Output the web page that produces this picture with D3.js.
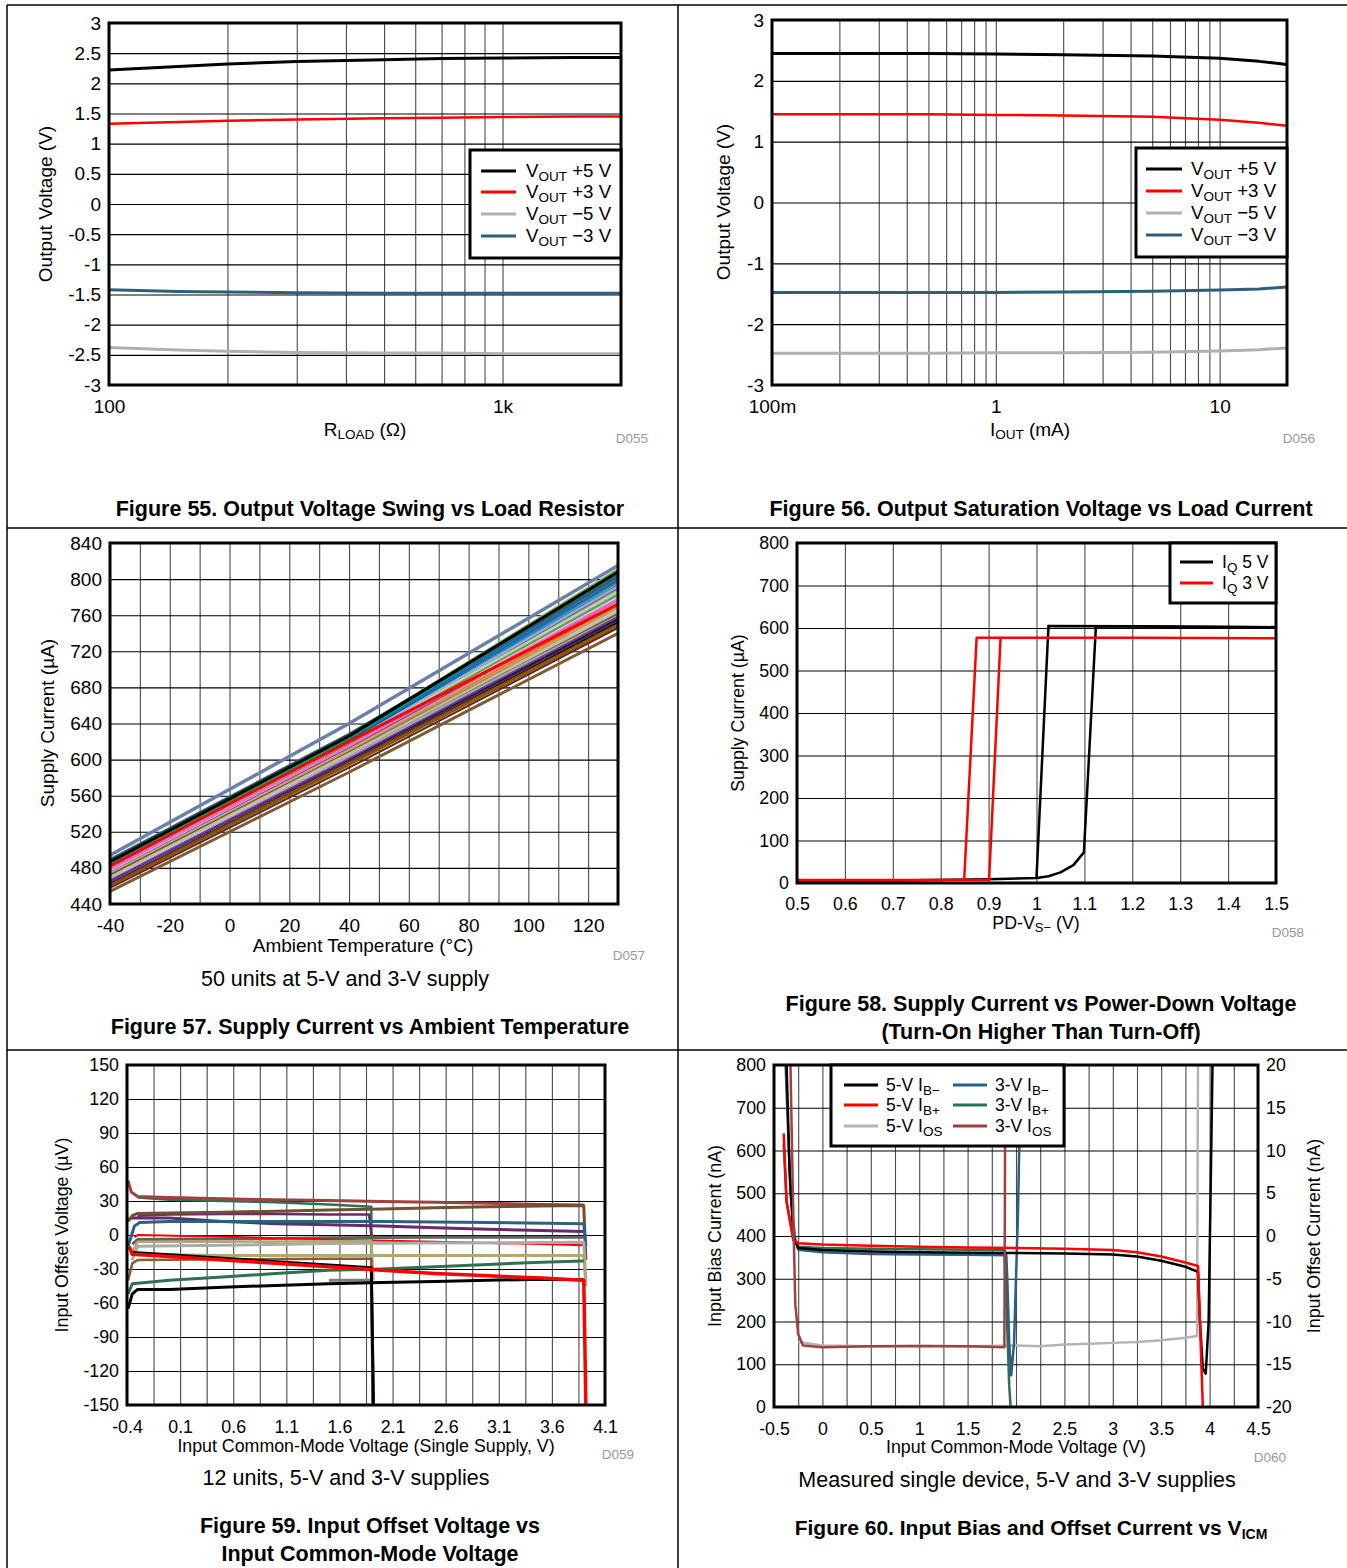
<!DOCTYPE html>
<html><head><meta charset="utf-8">
<script src="https://cdn.jsdelivr.net/npm/d3@7"></script>
<style>body{margin:0;background:#fff}</style>
</head><body><svg id="c" width="1347" height="1568"></svg>
<script>
// ---------------- DATA ----------------
// Figure 55
const f55_rload = [100, 150, 200, 300, 500, 700, 1000, 1500, 2000];
const f55_vout_p5 = [2.22, 2.28, 2.32, 2.36, 2.39, 2.41, 2.42, 2.43, 2.43];
const f55_vout_p3 = [1.33, 1.36, 1.38, 1.40, 1.42, 1.43, 1.44, 1.45, 1.45];
const f55_vout_m5 = [-2.38, -2.42, -2.44, -2.46, -2.47, -2.47, -2.48, -2.48, -2.48];
const f55_vout_m3 = [-1.42, -1.45, -1.46, -1.47, -1.48, -1.48, -1.48, -1.48, -1.48];
// Figure 56
const f56_iout = [0.1, 0.2, 0.5, 1, 2, 5, 10, 15, 20];
const f56_vout_p5 = [2.45, 2.45, 2.45, 2.44, 2.43, 2.41, 2.37, 2.32, 2.27];
const f56_vout_p3 = [1.45, 1.45, 1.45, 1.44, 1.43, 1.41, 1.36, 1.31, 1.26];
const f56_vout_m5 = [-2.48, -2.48, -2.48, -2.47, -2.47, -2.46, -2.44, -2.42, -2.39];
const f56_vout_m3 = [-1.48, -1.48, -1.48, -1.48, -1.47, -1.46, -1.44, -1.42, -1.39];
// Figure 57 (50 units)
const f57_temps = [-40, 40, 130];
const f57_at_m40 = [494,489,488,485,482,475,471,468,465,454,487,486,484,483,486,480,478,477,481,476,479,480,478,474,482,462,466,470,467,472,460,458,483,479,476,473,477,474,481,469,480,485,472,463,461,484,483,478,466,470];
const f57_at_40  = [640,628,627,622,620,612,608,605,603,586,626,627,624,622,628,618,614,614,620,612,617,618,616,610,621,596,600,606,604,609,594,591,623,617,613,611,615,611,619,606,619,624,608,598,596,623,624,615,601,607];
const f57_at_130 = [815,803,800,790,772,768,752,760,762,740,808,811,800,796,792,786,776,774,794,770,788,790,784,770,798,752,756,764,760,766,748,746,797,782,778,772,780,774,786,766,792,804,762,754,750,799,806,778,758,764];
const f57_colors = ['#6b80a8','#2f5f6f','#3d6b7a','#cc33ee','#ff0000','#b0a868','#7a2d6e','#888888','#bbbbbb','#7b5c33','#000000','#7ab648','#6a6ab0','#a8c830','#40c8c8','#9ccfc0','#e070b0','#d9534f','#4f81bd','#c0504d','#9bbb59','#8064a2','#4bacc6','#f79646','#1f497d','#000000','#000000','#595959','#a6a6a6','#948a54','#7f6000','#632523','#31859c','#76923c','#5f497a','#e36c09','#b7dde8','#d99694','#c3d69b','#ccc1da','#8db3e2','#366092','#4f6228','#403151','#984807','#0070c0','#00b050','#ff66cc','#7030a0','#c4bd97'];
// Figure 58
const f58_5v_a_x = [0.5, 0.7, 0.9, 1.0, 1.025, 1.2, 1.5];
const f58_5v_a_y = [5, 6, 9, 12, 605, 604, 602];
const f58_5v_b_x = [1.0, 1.025, 1.05, 1.077, 1.099, 1.124, 1.3, 1.5];
const f58_5v_b_y = [12, 16, 25, 42, 72, 604, 603, 602];
const f58_3v_a_x = [0.5, 0.849, 0.875, 1.2, 1.5];
const f58_3v_a_y = [7, 7, 577, 577, 576];
const f58_3v_b_x = [0.849, 0.901, 0.925];
const f58_3v_b_y = [7, 7, 577];
// Figure 59 (x: V, y: µV)
const f59_s01 = [[-0.39,48],[-0.36,38],[-0.3,34],[0,33],[0.5,32],[1.0,31],[1.5,30.5],[2.0,29.5],[2.5,29],[3.0,28],[3.5,27],[3.9,26.5]];
const f59_s02 = [[-0.3,33],[0,31],[0.5,30],[1.0,29],[1.5,27],[1.9,25],[1.91,-150]];
const f59_s03 = [[-0.39,12],[-0.35,17],[-0.3,19],[0,19.5],[0.5,20],[1.0,21],[1.5,22],[2.0,23],[2.5,24],[3.0,25],[3.5,25.5],[3.9,26],[3.92,-22]];
const f59_s04 = [[-0.39,14],[-0.35,15],[0,15],[0.5,12],[1.0,10],[1.5,9],[2.0,8],[2.5,6.5],[3.0,5],[3.5,4],[3.9,3]];
const f59_s05 = [[-0.3,17],[0,18],[0.5,18.5],[1.0,18.5],[1.5,18],[1.88,18],[1.9,0]];
const f59_s06 = [[-0.39,-10],[-0.33,8],[-0.28,11],[0,12],[1,12],[2,12],[3,11],[3.9,10],[3.92,-10]];
const f59_s07 = [[-0.35,-8],[-0.3,-4],[0.5,-3.5],[1.5,-2.5],[2.5,-2],[3.9,-2]];
const f59_s08 = [[-0.33,-2],[-0.3,0],[0.5,-1.5],[1.5,-4],[2.5,-6],[3.5,-8],[3.9,-9]];
const f59_s09 = [[-0.35,-22],[-0.3,-10],[0.5,-9],[1.5,-7.5],[2.5,-7],[3.9,-6.5],[3.92,-40]];
const f59_s10 = [[-0.35,-15],[-0.3,-6],[0.5,-6],[1.5,-5.5],[1.9,-5],[1.92,-40]];
const f59_s11 = [[-0.35,-12],[-0.3,-17],[0.5,-18],[1.5,-18],[2.5,-18],[3.9,-18],[3.92,-45]];
const f59_s12 = [[-0.39,-40],[-0.35,-25],[-0.3,-22],[0.5,-21.5],[1.5,-21],[1.9,-21],[1.92,-150]];
const f59_s13 = [[-0.39,-52],[-0.35,-43],[0,-40],[0.5,-37],[1.0,-34],[1.5,-31],[2.0,-30],[2.5,-28],[3.0,-26],[3.5,-24],[3.9,-23]];
const f59_s14 = [[-0.39,-65],[-0.35,-52],[-0.3,-48],[0,-48],[0.5,-46],[1.0,-44.5],[1.5,-43],[2.0,-42],[2.5,-41],[3.0,-40],[3.5,-39],[3.9,-39.5]];
const f59_s15 = [[1.5,-40],[1.9,-40],[1.92,-150]];
const f59_s16 = [[-0.35,-15.5],[0,-17.5],[0.5,-20.5],[1.0,-23.5],[1.5,-26.5],[1.9,-29],[1.92,-150]];
const f59_s17 = [[-0.38,-10],[-0.35,-17],[0,-19],[0.5,-22],[1.0,-25],[1.5,-28],[2.0,-31],[2.5,-34],[3.0,-36],[3.5,-38],[3.9,-40],[3.92,-150]];
// Figure 60 (bias in nA on left axis, offset in nA on right axis)
const f60_5v_ibm = [[-0.37,800],[-0.34,560],[-0.3,400],[-0.25,372],[0,367],[0.5,364],[1,362],[1.5,361],[2,360],[2.5,359],[3,357],[3.25,352],[3.5,342],[3.75,328],[3.88,316],[3.9,200],[3.93,90],[3.96,78],[3.99,200],[4.03,800]];
const f60_5v_ibp = [[-0.40,640],[-0.37,480],[-0.3,392],[-0.25,383],[0,380],[0.5,377],[1,375],[1.5,373],[2,372],[2.5,370],[3,367],[3.25,362],[3.5,352],[3.75,338],[3.88,330],[3.9,200],[3.93,0],[3.95,-50]];
const f60_5v_ios = [[-0.25,-12.4],[0,-12.8],[0.5,-12.9],[1,-12.8],[1.5,-12.9],[2,-12.8],[2.25,-12.9],[2.5,-12.7],[2.75,-12.6],[3,-12.5],[3.25,-12.4],[3.5,-12.2],[3.75,-11.9],[3.87,-11.7],[3.88,20]];
const f60_3v_ibm = [[-0.38,800],[-0.33,500],[-0.28,390],[-0.25,368],[0,362],[0.5,358],[1,357],[1.5,356],[1.9,355],[1.91,300],[1.93,150],[1.95,74],[1.98,150],[2.02,450],[2.05,800]];
const f60_3v_ibp = [[-0.40,615],[-0.37,480],[-0.3,390],[-0.25,375],[0,372],[0.5,370],[1,369],[1.5,368],[1.88,367],[1.9,250],[1.93,50],[1.95,-20]];
const f60_3v_ios = [[-0.33,20],[-0.3,2],[-0.28,-8],[-0.25,-11.5],[-0.2,-12.8],[0,-13],[0.5,-12.9],[1,-12.9],[1.5,-12.9],[1.88,-13],[1.89,20]];

// ---------------- DRAWING ----------------
const FONT = "'Liberation Sans', Arial, Helvetica, sans-serif";
const BIG = 19, SMALL = 17.8, CAP = 21.5, SUBT = 21.5, DLAB = 13.5;
const svg = d3.select('#c');
svg.append('rect').attr('width', 1347).attr('height', 1568).attr('fill', '#fff');
const fmtNum = d => String(Math.round(d * 100) / 100);
let clipN = 0;

function rich(t, parts, subSize, shift) {
  let inSub = false;
  parts.forEach(([s, sub]) => {
    const ts = t.append('tspan').text(s);
    if (sub) ts.style('font-size', subSize + 'px');
    if (sub && !inSub) { ts.attr('dy', shift); inSub = true; }
    else if (!sub && inSub) { ts.attr('dy', -shift); inSub = false; }
  });
  return t;
}
function text(x, y, s, size, opts = {}) {
  return svg.append('text').attr('x', x).attr('y', y)
    .attr('text-anchor', opts.anchor || 'middle')
    .attr('font-family', FONT).attr('font-size', size)
    .attr('font-weight', opts.bold ? 'bold' : 'normal')
    .attr('fill', opts.color || '#000')
    .text(s);
}
function richText(x, y, parts, size, subSize, shift, opts = {}) {
  const t = svg.append('text').attr('x', x).attr('y', y)
    .attr('text-anchor', opts.anchor || 'middle')
    .attr('font-family', FONT).attr('font-size', size)
    .attr('font-weight', opts.bold ? 'bold' : 'normal').attr('fill', '#000');
  return rich(t, parts, subSize, shift);
}
function yTitle(x, y, s, size) {
  svg.append('text').attr('transform', `translate(${x},${y}) rotate(-90)`)
    .attr('text-anchor', 'middle').attr('dominant-baseline', 'central')
    .attr('font-family', FONT).attr('font-size', size).text(s);
}

function panel(o) {
  const g = svg.append('g');
  const x = o.x, y = o.y;
  const w = o.x1 - o.x0, h = o.y1 - o.y0;
  const fs = o.fs || BIG;
  g.append('g').attr('transform', `translate(0,${o.y1})`)
    .call(d3.axisBottom(x).tickValues(o.xGrid).tickSize(-h).tickFormat(''))
    .call(a => { a.select('.domain').remove(); a.selectAll('line').attr('stroke', '#4a4a4a').attr('stroke-width', 1.1); });
  g.append('g').attr('transform', `translate(${o.x0},0)`)
    .call(d3.axisLeft(y).tickValues(o.yGrid).tickSize(-w).tickFormat(''))
    .call(a => { a.select('.domain').remove(); a.selectAll('line').attr('stroke', '#000').attr('stroke-width', 1.1); });
  const styleT = a => { a.select('.domain').remove(); a.selectAll('text').style('font-family', FONT).style('font-size', fs + 'px').attr('fill', '#000'); };
  g.append('g').attr('transform', `translate(0,${o.y1})`)
    .call(d3.axisBottom(x).tickValues(o.xTicks).tickSize(0).tickPadding(o.xPad || 15).tickFormat(o.xFmt || fmtNum)).call(styleT);
  g.append('g').attr('transform', `translate(${o.x0},0)`)
    .call(d3.axisLeft(y).tickValues(o.yTicks).tickSize(0).tickPadding(8).tickFormat(o.yFmt || fmtNum)).call(styleT);
  if (o.yR) {
    g.append('g').attr('transform', `translate(${o.x1},0)`)
      .call(d3.axisRight(o.yR).tickValues(o.yRTicks).tickSize(0).tickPadding(8).tickFormat(fmtNum)).call(styleT);
  }
  const id = 'clip' + (clipN++);
  svg.append('clipPath').attr('id', id).append('rect').attr('x', o.x0).attr('y', o.y0).attr('width', w).attr('height', h);
  const plot = g.append('g').attr('clip-path', `url(#${id})`);
  return {
    g, plot,
    line(data, color, width, xs, ys) {
      const sx = xs || x, sy = ys || y;
      plot.append('path').datum(data).attr('fill', 'none').attr('stroke', color)
        .attr('stroke-width', width).attr('stroke-linejoin', 'round')
        .attr('d', d3.line().x(d => sx(d[0])).y(d => sy(d[1])));
    },
    border() {
      g.append('rect').attr('x', o.x0).attr('y', o.y0).attr('width', w).attr('height', h)
        .attr('fill', 'none').attr('stroke', '#000').attr('stroke-width', 3);
    }
  };
}
const zip = (a, b) => a.map((v, i) => [v, b[i]]);

function legend(x0, y0, x1, y1, items) {
  svg.append('rect').attr('x', x0).attr('y', y0).attr('width', x1 - x0).attr('height', y1 - y0)
    .attr('fill', '#fff').attr('stroke', '#000').attr('stroke-width', 3);
  items.forEach(it => {
    svg.append('line').attr('x1', it.lx).attr('x2', it.lx + it.len).attr('y1', it.y).attr('y2', it.y)
      .attr('stroke', it.color).attr('stroke-width', 3);
    const t = svg.append('text').attr('x', it.tx).attr('y', it.y + 6)
      .attr('font-family', FONT).attr('font-size', it.size || 18.7).attr('fill', '#000');
    rich(t, it.parts, it.sub || 13.5, 4);
  });
}

// ---- Frame ----
const frame = svg.append('g').attr('stroke', '#000').attr('stroke-width', 1.5);
frame.append('line').attr('x1', 7).attr('x2', 1347).attr('y1', 5).attr('y2', 5);
frame.append('line').attr('x1', 7).attr('x2', 7).attr('y1', 5).attr('y2', 1568);
frame.append('line').attr('x1', 678).attr('x2', 678).attr('y1', 5).attr('y2', 1568);
frame.append('line').attr('x1', 7).attr('x2', 1347).attr('y1', 528).attr('y2', 528);
frame.append('line').attr('x1', 7).attr('x2', 1347).attr('y1', 1050).attr('y2', 1050);

// ---- Figure 55 ----
{
  const x = d3.scaleLog().domain([100, 2000]).range([109, 621]);
  const y = d3.scaleLinear().domain([-3, 3]).range([385, 23]);
  const p = panel({ x, y, x0: 109, x1: 621, y0: 23, y1: 385,
    xGrid: [200, 300, 400, 500, 600, 700, 800, 900, 1000], yGrid: d3.range(-2.5, 2.6, 0.5),
    xTicks: [100, 1000], xFmt: d => d === 1000 ? '1k' : '100', yTicks: d3.range(-3, 3.01, 0.5) });
  p.line(zip(f55_rload, f55_vout_m5), '#b0b0b0', 3);
  p.line(zip(f55_rload, f55_vout_m3), '#2e5f7a', 3);
  p.line(zip(f55_rload, f55_vout_p3), '#ff0000', 2.5);
  p.line(zip(f55_rload, f55_vout_p5), '#000', 3);
  p.border();
  legend(470, 150, 621, 258, [
    { lx: 481, len: 35, y: 171, color: '#000', tx: 526, parts: [['V'], ['OUT', 1], [' +5 V']] },
    { lx: 481, len: 35, y: 192, color: '#ff0000', tx: 526, parts: [['V'], ['OUT', 1], [' +3 V']] },
    { lx: 481, len: 35, y: 214, color: '#b0b0b0', tx: 526, parts: [['V'], ['OUT', 1], [' \u22125 V']] },
    { lx: 481, len: 35, y: 236, color: '#2e5f7a', tx: 526, parts: [['V'], ['OUT', 1], [' \u22123 V']] }]);
  yTitle(45, 204, 'Output Voltage (V)', BIG);
  richText(365, 436, [['R'], ['LOAD', 1], [' (\u03A9)']], BIG, 13.5, 3);
  text(632, 443, 'D055', DLAB, { color: '#999' });
  text(370, 516, 'Figure 55. Output Voltage Swing vs Load Resistor', CAP, { bold: true });
}

// ---- Figure 56 ----
{
  const x = d3.scaleLog().domain([0.1, 20]).range([772, 1287]);
  const y = d3.scaleLinear().domain([-3, 3]).range([385, 20]);
  const p = panel({ x, y, x0: 772, x1: 1287, y0: 20, y1: 385,
    xGrid: [0.2, 0.3, 0.4, 0.5, 0.6, 0.7, 0.8, 0.9, 1, 2, 3, 4, 5, 6, 7, 8, 9, 10], yGrid: d3.range(-2, 2.1, 1),
    xTicks: [0.1, 1, 10], xFmt: d => d === 0.1 ? '100m' : String(d), yTicks: d3.range(-3, 3.1, 1) });
  p.line(zip(f56_iout, f56_vout_m5), '#b0b0b0', 3);
  p.line(zip(f56_iout, f56_vout_m3), '#2e5f7a', 3);
  p.line(zip(f56_iout, f56_vout_p3), '#ff0000', 2.5);
  p.line(zip(f56_iout, f56_vout_p5), '#000', 3);
  p.border();
  legend(1136, 148, 1287, 257, [
    { lx: 1146, len: 36, y: 169, color: '#000', tx: 1191, parts: [['V'], ['OUT', 1], [' +5 V']] },
    { lx: 1146, len: 36, y: 191, color: '#ff0000', tx: 1191, parts: [['V'], ['OUT', 1], [' +3 V']] },
    { lx: 1146, len: 36, y: 213, color: '#b0b0b0', tx: 1191, parts: [['V'], ['OUT', 1], [' \u22125 V']] },
    { lx: 1146, len: 36, y: 235, color: '#2e5f7a', tx: 1191, parts: [['V'], ['OUT', 1], [' \u22123 V']] }]);
  yTitle(723, 202, 'Output Voltage (V)', BIG);
  richText(1030, 436, [['I'], ['OUT', 1], [' (mA)']], BIG, 13.5, 3);
  text(1299, 443, 'D056', DLAB, { color: '#999' });
  text(1041, 516, 'Figure 56. Output Saturation Voltage vs Load Current', CAP, { bold: true });
}

// ---- Figure 57 ----
{
  const x = d3.scaleLinear().domain([-40, 130]).range([110, 618]);
  const y = d3.scaleLinear().domain([440, 840]).range([904, 543]);
  const p = panel({ x, y, x0: 110, x1: 618, y0: 543, y1: 904,
    xGrid: d3.range(-30, 130, 10), yGrid: d3.range(480, 840, 40),
    xTicks: d3.range(-40, 121, 20), yTicks: d3.range(440, 841, 40) });
  const thick = [0, 1, 4, 9, 10];
  f57_colors.forEach((c, i) => {
    if (thick.includes(i)) return;
    p.line(zip(f57_temps, [f57_at_m40[i], f57_at_40[i], f57_at_130[i]]), c, 2);
  });
  thick.forEach(i => p.line(zip(f57_temps, [f57_at_m40[i], f57_at_40[i], f57_at_130[i]]), f57_colors[i], i === 0 ? 3.5 : 3));
  p.border();
  yTitle(47, 723, 'Supply Current (\u00B5A)', BIG);
  text(363, 952, 'Ambient Temperature (\u00B0C)', BIG);
  text(629, 960, 'D057', DLAB, { color: '#999' });
  text(345, 986, '50 units at 5-V and 3-V supply', SUBT);
  text(370, 1034, 'Figure 57. Supply Current vs Ambient Temperature', CAP, { bold: true });
}

// ---- Figure 58 ----
{
  const x = d3.scaleLinear().domain([0.5, 1.5]).range([797, 1276]);
  const y = d3.scaleLinear().domain([0, 800]).range([883, 543]);
  const p = panel({ x, y, x0: 797, x1: 1276, y0: 543, y1: 883, fs: SMALL,
    xGrid: d3.range(0.6, 1.45, 0.1), yGrid: d3.range(100, 800, 100),
    xTicks: d3.range(0.5, 1.51, 0.1), xPad: 14, yTicks: d3.range(0, 801, 100) });
  p.line(zip(f58_5v_a_x, f58_5v_a_y), '#000', 2.5);
  p.line(zip(f58_5v_b_x, f58_5v_b_y), '#000', 2.5);
  p.line(zip(f58_3v_a_x, f58_3v_a_y), '#ff0000', 2.5);
  p.line(zip(f58_3v_b_x, f58_3v_b_y), '#ff0000', 2.5);
  p.border();
  legend(1170, 543, 1276, 603, [
    { lx: 1180, len: 33, y: 562, color: '#000', tx: 1222, size: 17.5, parts: [['I'], ['Q', 1], [' 5 V']] },
    { lx: 1180, len: 33, y: 583, color: '#ff0000', tx: 1222, size: 17.5, parts: [['I'], ['Q', 1], [' 3 V']] }]);
  yTitle(738, 713, 'Supply Current (\u00B5A)', SMALL);
  richText(1036, 929, [['PD-V'], ['S\u2212', 1], [' (V)']], SMALL, 13, 3);
  text(1288, 937, 'D058', DLAB, { color: '#999' });
  text(1041, 1011, 'Figure 58. Supply Current vs Power-Down Voltage', CAP, { bold: true });
  text(1041, 1039, '(Turn-On Higher Than Turn-Off)', CAP, { bold: true });
}

// ---- Figure 59 ----
{
  const x = d3.scaleLinear().domain([-0.4, 4.1]).range([127, 605]);
  const y = d3.scaleLinear().domain([-150, 150]).range([1405, 1065]);
  const p = panel({ x, y, x0: 127, x1: 605, y0: 1065, y1: 1405, fs: SMALL,
    xGrid: d3.range(-0.15, 4.0, 0.25), yGrid: d3.range(-120, 150, 30),
    xTicks: d3.range(-0.4, 4.11, 0.5), yTicks: d3.range(-150, 151, 30) });
  p.line(f59_s02, '#2e7050', 2.5);
  p.line(f59_s01, '#a0403f', 3);
  p.line(f59_s05, '#6a2a6a', 2.5);
  p.line(f59_s04, '#6a2a6a', 3);
  p.line(f59_s03, '#6f5030', 3);
  p.line(f59_s06, '#2f6080', 3);
  p.line(f59_s07, '#606060', 3);
  p.line(f59_s08, '#ff0000', 2);
  p.line(f59_s09, '#aaaaaa', 3);
  p.line(f59_s10, '#b0a870', 2.5);
  p.line(f59_s11, '#b0a870', 3);
  p.line(f59_s12, '#8a5a30', 2.5);
  p.line(f59_s13, '#2e7050', 3);
  p.line(f59_s15, '#7f7f7f', 3);
  p.line(f59_s16, '#000', 3);
  p.line(f59_s14, '#000', 3);
  p.line(f59_s17, '#ff0000', 3.5);
  p.border();
  yTitle(62, 1235, 'Input Offset Voltage (\u00B5V)', SMALL);
  text(366, 1452, 'Input Common-Mode Voltage (Single Supply, V)', SMALL);
  text(618, 1459, 'D059', DLAB, { color: '#999' });
  text(346, 1485, '12 units, 5-V and 3-V supplies', SUBT);
  text(370, 1533, 'Figure 59. Input Offset Voltage vs', CAP, { bold: true });
  text(370, 1561, 'Input Common-Mode Voltage', CAP, { bold: true });
}

// ---- Figure 60 ----
{
  const x = d3.scaleLinear().domain([-0.5, 4.5]).range([774, 1258]);
  const y = d3.scaleLinear().domain([0, 800]).range([1407, 1065]);
  const yR = d3.scaleLinear().domain([-20, 20]).range([1407, 1065]);
  const p = panel({ x, y, yR, x0: 774, x1: 1258, y0: 1065, y1: 1407, fs: SMALL,
    xGrid: d3.range(-0.25, 4.4, 0.25), yGrid: d3.range(100, 800, 100),
    xTicks: d3.range(-0.5, 4.51, 0.5), yTicks: d3.range(0, 801, 100), yRTicks: d3.range(-20, 21, 5) });
  p.line(f60_5v_ios, '#b4b4b4', 2.5, x, yR);
  p.line(f60_3v_ibp, '#2e7050', 2.5);
  p.line(f60_3v_ibm, '#2a6080', 2.5);
  p.line(f60_5v_ibm, '#000', 2.5);
  p.line(f60_5v_ibp, '#ff0000', 2.5);
  p.line(f60_3v_ios, '#a04040', 2.5, x, yR);
  p.border();
  legend(831, 1065, 1064, 1146, [
    { lx: 844, len: 34, y: 1085, color: '#000', tx: 886, size: 17.5, parts: [['5-V I'], ['B\u2212', 1]] },
    { lx: 844, len: 34, y: 1105, color: '#ff0000', tx: 886, size: 17.5, parts: [['5-V I'], ['B+', 1]] },
    { lx: 844, len: 34, y: 1126, color: '#b4b4b4', tx: 886, size: 17.5, parts: [['5-V I'], ['OS', 1]] },
    { lx: 953, len: 34, y: 1085, color: '#2a6080', tx: 995, size: 17.5, parts: [['3-V I'], ['B\u2212', 1]] },
    { lx: 953, len: 34, y: 1105, color: '#2e7050', tx: 995, size: 17.5, parts: [['3-V I'], ['B+', 1]] },
    { lx: 953, len: 34, y: 1126, color: '#a04040', tx: 995, size: 17.5, parts: [['3-V I'], ['OS', 1]] }]);
  yTitle(715, 1236, 'Input Bias Current (nA)', SMALL);
  yTitle(1314, 1236, 'Input Offset Current (nA)', SMALL);
  text(1016, 1453, 'Input Common-Mode Voltage (V)', SMALL);
  text(1270, 1462, 'D060', DLAB, { color: '#999' });
  text(1017, 1487, 'Measured single device, 5-V and 3-V supplies', SUBT);
  richText(1031, 1535, [['Figure 60. Input Bias and Offset Current vs V'], ['ICM', 1]], 21, 14, 4, { bold: true });
}
</script></body></html>
